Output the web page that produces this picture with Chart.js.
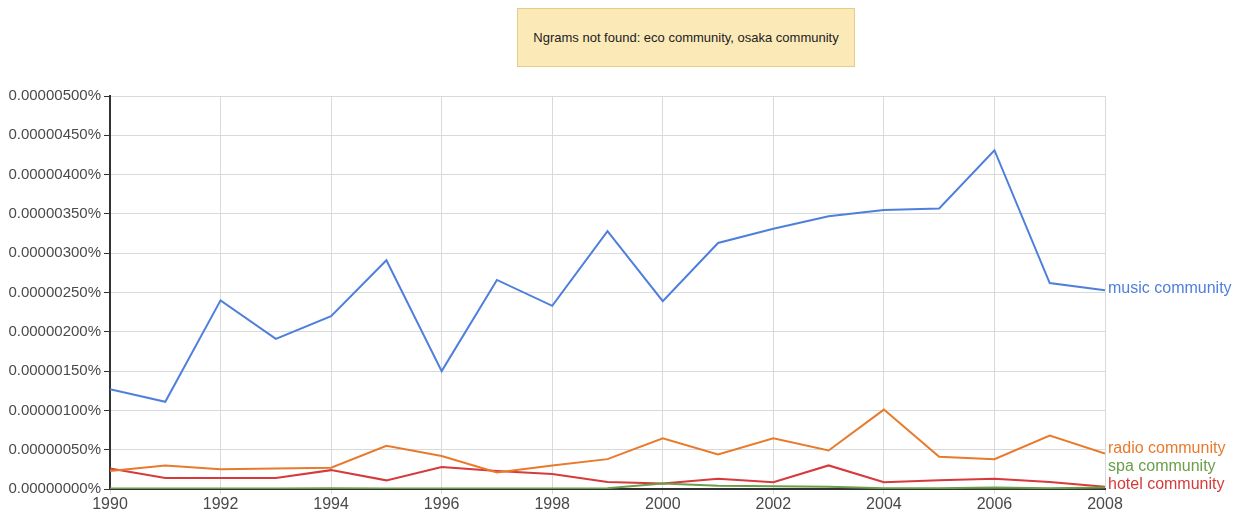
<!DOCTYPE html>
<html>
<head>
<meta charset="utf-8">
<script src="https://cdn.jsdelivr.net/npm/chart.js@4.4.1/dist/chart.umd.min.js"></script>
<style>
  body { margin: 0; background: #fff; }
  #wrap { position: relative; width: 1237px; height: 512px; }
  #notice {
    position: absolute; left: 517px; top: 8px; width: 336px; height: 57px;
    background: #fbe9b8; border: 1px solid #e3cc8c;
    font: 13px "Liberation Sans", Arial, sans-serif; color: #222;
    display: flex; align-items: center; justify-content: center;
  }
</style>
</head>
<body>
<div id="wrap">
  <canvas id="chart" width="1237" height="512"></canvas>
  <div id="notice">Ngrams not found: eco community, osaka community</div>
</div>
<script>
// values in units of 0.000001 %
const years = [1990, 1991, 1992, 1993, 1994, 1995, 1996, 1997, 1998, 1999,
               2000, 2001, 2002, 2003, 2004, 2005, 2006, 2007, 2008];
const music = [1.27, 1.11, 2.40, 1.91, 2.20, 2.91, 1.50, 2.66, 2.33, 3.28,
               2.39, 3.13, 3.31, 3.47, 3.55, 3.57, 4.31, 2.62, 2.53];
const radio = [0.23, 0.30, 0.25, 0.26, 0.27, 0.55, 0.42, 0.21, 0.30, 0.38,
               0.645, 0.44, 0.645, 0.49, 1.01, 0.41, 0.38, 0.68, 0.45];
const spa   = [0.005, 0.005, 0.005, 0.005, 0.01, 0.005, 0.005, 0.005, 0.005, 0.01,
               0.07, 0.04, 0.035, 0.03, 0.01, 0.01, 0.02, 0.01, 0.02];
const hotel = [0.26, 0.14, 0.14, 0.14, 0.24, 0.11, 0.28, 0.23, 0.19, 0.09,
               0.07, 0.13, 0.085, 0.30, 0.085, 0.11, 0.13, 0.09, 0.03];
const seriesNames = ["music community", "radio community", "spa community", "hotel community"];
const seriesColors = ["#4f7fdc", "#e97a2c", "#6a9e48", "#d63a3a"];

const font = "Liberation Sans, Arial, sans-serif";

const toPoints = vals => years.map((y, i) => ({ x: y, y: vals[i] }));

// end-of-line labels next to the last point of each series,
// stacked top-to-bottom in series order
const endLabels = {
  id: "endLabels",
  afterDatasetsDraw(chart) {
    const ctx = chart.ctx;
    const area = chart.chartArea;
    const items = chart.data.datasets.map((ds, i) => {
      const pts = chart.getDatasetMeta(i).data;
      const last = pts[pts.length - 1];
      return { text: ds.label, color: ds.borderColor, x: last.x, y: last.y - 2 };
    });
    let limit = area.bottom - 3;
    for (let i = items.length - 1; i >= 0; i--) {
      items[i].y = Math.min(items[i].y, limit);
      limit = items[i].y - 18;
    }
    ctx.save();
    ctx.font = "16px " + font;
    ctx.textBaseline = "middle";
    ctx.textAlign = "left";
    items.forEach(it => {
      ctx.fillStyle = it.color;
      ctx.fillText(it.text, it.x + 3, it.y);
    });
    ctx.restore();
  }
};

new Chart(document.getElementById("chart"), {
  type: "line",
  data: {
    datasets: [music, radio, spa, hotel].map((vals, i) => ({
      label: seriesNames[i],
      data: toPoints(vals),
      borderColor: seriesColors[i],
      backgroundColor: seriesColors[i],
      borderWidth: 2,
      pointRadius: 0,
      tension: 0,
      fill: false
    }))
  },
  options: {
    responsive: false,
    animation: false,
    layout: { padding: { top: 96, right: 132, left: 0, bottom: 0 } },
    plugins: { legend: { display: false }, tooltip: { enabled: false } },
    scales: {
      x: {
        type: "linear",
        min: 1990,
        max: 2008,
        afterFit: s => { s.height = 23; },
        ticks: {
          stepSize: 2,
          color: "#4a4a4a",
          font: { family: font, size: 16 },
          padding: 1,
          maxRotation: 0,
          callback: v => String(v)
        },
        grid: { color: "#d9d9d9", tickColor: "#d9d9d9", tickLength: 5 },
        border: { color: "#333", width: 2 }
      },
      y: {
        min: 0,
        max: 5,
        afterFit: s => { s.width = 110; },
        ticks: {
          stepSize: 0.5,
          color: "#4a4a4a",
          font: { family: font, size: 15 },
          padding: 3,
          callback: v => (v / 1e6).toFixed(8) + "%"
        },
        grid: { color: "#d9d9d9", tickColor: "#333", tickLength: 6 },
        border: { color: "#333", width: 2 }
      }
    }
  },
  plugins: [endLabels]
});
</script>
</body>
</html>
